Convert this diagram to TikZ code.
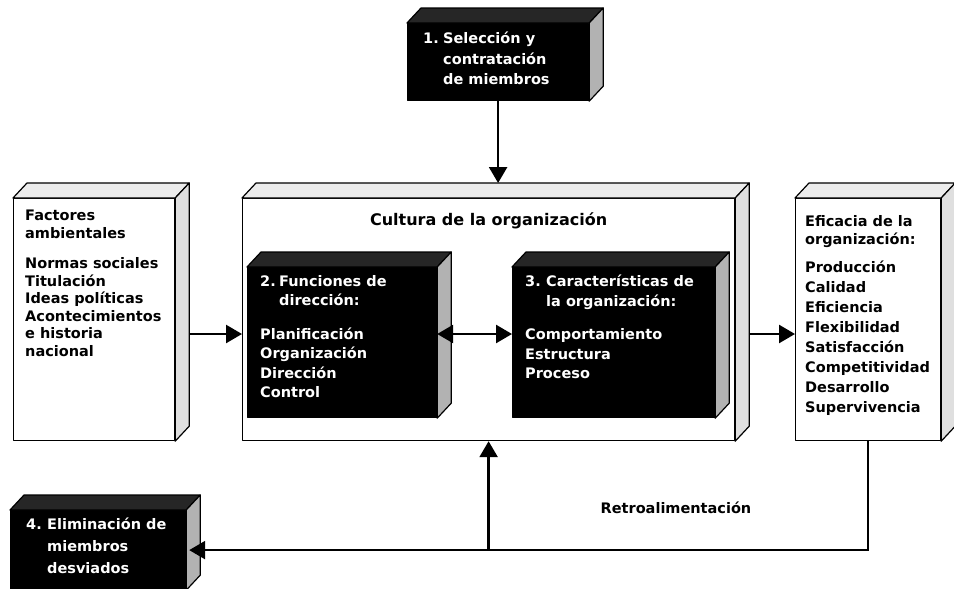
\documentclass[tikz,border=0pt]{standalone}
\usepackage{fontspec}
\setmainfont{DejaVu Sans}
\usetikzlibrary{arrows.meta, positioning, calc}

% top and side faces of a box whose front is node #1
\newcommand{\boxdepth}[3]{%
  \draw[face, fill=#2] (#1.north west) -- ++(14,-15) -- ($(#1.north east)+(14,-15)$) -- (#1.north east) -- cycle;
  \draw[face, fill=#3] (#1.north east) -- ++(14,-15) -- ($(#1.south east)+(14,-15)$) -- (#1.south east) -- cycle;
}

\begin{document}
\begin{tikzpicture}[x=1pt, y=-1pt,
    face/.style={draw, line width=1.2pt, line join=round},
    front/.style={face, inner sep=0pt, anchor=north west},
    light/.style={front, fill=white},
    dark/.style={front, fill=black},
    txt/.style={inner sep=0pt, align=left, font=\fontsize{14.5}{19.5}\selectfont\bfseries},
    wtxt/.style={txt, text=white},
    arr/.style={line width=2.5pt, -{Triangle[length=16pt,width=18pt]}},
    dbl/.style={line width=2.5pt, {Triangle[length=16pt,width=18pt]}-{Triangle[length=16pt,width=18pt]}}
]
  \useasboundingbox (0,0) rectangle (954,589);

  % 1. top box
  \node[dark, minimum width=181pt, minimum height=77pt] (sel) at (407,23) {};
  \boxdepth{sel}{black!85}{gray!60}
  \node[wtxt, font=\fontsize{14.5}{20.5}\selectfont\bfseries, below right=9pt and 16pt of sel.north west] (seltxt)
    {\makebox[20pt][l]{1.}Selección y\\\hspace*{20pt}contratación\\\hspace*{20pt}de miembros};

  % environment
  \node[light, minimum width=161pt, minimum height=242pt] (env) at (13,198) {};
  \boxdepth{env}{gray!15}{gray!25}
  \node[txt, font=\fontsize{14.5}{17.5}\selectfont\bfseries, below right=12pt and 12pt of env.north west] (envtxt)
    {Factores\\ambientales\\[13pt]Normas sociales\\Titulación\\Ideas políticas\\Acontecimientos\\e historia\\nacional};

  % culture of the organization
  \node[light, minimum width=492pt, minimum height=242pt] (cult) at (242,198) {};
  \boxdepth{cult}{gray!15}{gray!25}
  \node[inner sep=0pt, font=\fontsize{16}{19}\selectfont\bfseries, below=15pt of cult.north] (culttxt)
    {Cultura de la organización};

  % 2. and 3.
  \node[dark, minimum width=189pt, minimum height=150pt] (dir) at (247,267) {};
  \boxdepth{dir}{black!85}{gray!60}
  \node[wtxt, below right=8pt and 13pt of dir.north west] (dirtxt)
    {\makebox[19pt][l]{2.}Funciones de\\\hspace*{19pt}dirección:\\[14pt]Planificación\\Organización\\Dirección\\Control};

  \node[dark, minimum width=202pt, minimum height=150pt] (car) at (512,267) {};
  \boxdepth{car}{black!85}{gray!60}
  \node[wtxt, below right=8pt and 13pt of car.north west] (cartxt)
    {\makebox[21pt][l]{3.}Características de\\\hspace*{21pt}la organización:\\[14pt]Comportamiento\\Estructura\\Proceso};

  % effectiveness
  \node[light, minimum width=145pt, minimum height=242pt] (eff) at (795,198) {};
  \boxdepth{eff}{gray!15}{gray!25}
  \node[txt, font=\fontsize{14.5}{20}\selectfont\bfseries, below right=17pt and 10pt of eff.north west] (efftxt)
    {Eficacia de la\\[-2pt]organización:\\[8pt]Producción\\Calidad\\Eficiencia\\Flexibilidad\\Satisfacción\\Competitividad\\Desarrollo\\Supervivencia};

  % 4. bottom box
  \node[dark, minimum width=175pt, minimum height=79pt] (elim) at (10,510) {};
  \boxdepth{elim}{black!85}{gray!60}
  \node[wtxt, font=\fontsize{14.5}{22}\selectfont\bfseries, below right=8pt and 16pt of elim.north west] (elimtxt)
    {\makebox[21pt][l]{4.}Eliminación de\\\hspace*{21pt}miembros\\\hspace*{21pt}desviados};

  \node[txt] (fbtxt) at (676,508) {Retroalimentación};

  % arrows
  \coordinate (mid) at (0,334);
  \draw[arr] (sel.south) -- ($(sel.south |- cult.north)+(0,-15)$);
  \draw[arr] ($(env.east |- mid)+(14,0)$) -- (cult.west |- mid);
  \draw[dbl] (dir.east |- mid) -- (car.west |- mid);
  \draw[arr] ($(cult.east |- mid)+(14,0)$) -- (eff.west |- mid);

  % feedback loop
  \draw[arr] (eff.south) |- ($(elim.east)+(3,0)$);
  \draw[arr] (cult.south |- elim.east) -- (cult.south);
\end{tikzpicture}
\end{document}
